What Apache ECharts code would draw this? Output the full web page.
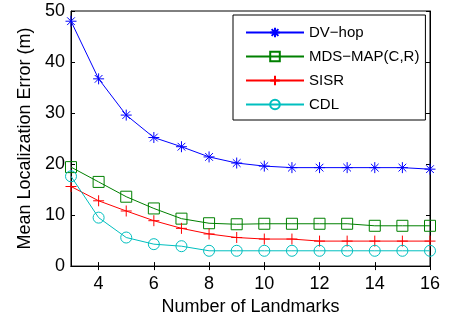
<!DOCTYPE html>
<html>
<head>
<meta charset="utf-8">
<script src="https://cdn.jsdelivr.net/npm/echarts@6/dist/echarts.min.js"></script>
<style>
  html, body { margin: 0; padding: 0; background: #fff; }
  #echartDiv { width: 466px; height: 321px; }
</style>
</head>
<body>
<div id="echartDiv"></div>
<script>
// data
const landmarks = [3, 4, 5, 6, 7, 8, 9, 10, 11, 12, 13, 14, 15, 16];
const dvHop = [48, 36.7, 29.6, 25.2, 23.4, 21.4, 20.2, 19.6, 19.3, 19.3, 19.3, 19.3, 19.3, 19.0];
const mdsMap = [19.4, 16.5, 13.6, 11.3, 9.3, 8.4, 8.2, 8.3, 8.3, 8.3, 8.3, 7.9, 7.9, 7.9];
const sisr = [15.6, 12.8, 10.8, 8.9, 7.4, 6.3, 5.6, 5.3, 5.3, 4.9, 4.9, 4.9, 4.9, 4.9];
const cdl = [17.6, 9.5, 5.6, 4.3, 3.9, 3.0, 3.0, 3.0, 3.0, 3.0, 3.0, 3.0, 3.0, 3.0];
const xTicks = [4, 6, 8, 10, 12, 14, 16];
const yTicks = [0, 10, 20, 30, 40, 50];

const FONT = "Liberation Sans";
const PLUS = "path://M0,5L10,5M5,0L5,10";
const STAR = "path://M0,5L10,5M5,0L5,10M1.5,1.5L8.5,8.5M1.5,8.5L8.5,1.5";

function pairs(vals) {
  return vals.map((v, i) => [landmarks[i], v]);
}

function makeSeries(name, vals, color, symbol, size) {
  return {
    name: name,
    type: "line",
    data: pairs(vals),
    symbol: symbol,
    symbolSize: size,
    showAllSymbol: true,
    lineStyle: { color: color, width: 1 },
    itemStyle: { color: "rgba(0,0,0,0)", borderColor: color, borderWidth: 1 },
    emphasis: { disabled: true },
    animation: false,
  };
}

let chartDom = document.getElementById("echartDiv");
let myChart = echarts.init(chartDom);
let tickStyle = { show: true, inside: true, length: 4, lineStyle: { color: "#000" } };
let option = {
  backgroundColor: "#fff",
  grid: { left: 71, right: 36, top: 11, bottom: 53, show: true, borderColor: "#000", borderWidth: 1 },
  legend: {
    orient: "vertical",
    left: 233,
    top: 15,
    padding: [10, 6, 8, 12],
    itemWidth: 58,
    itemHeight: 12,
    itemGap: 9,
    backgroundColor: "#fff",
    borderColor: "#000",
    borderWidth: 1,
    textStyle: { fontFamily: FONT, fontSize: 15, color: "#000" },
    data: ["DV\u2212hop", "MDS\u2212MAP(C,R)", "SISR", "CDL"],
  },
  xAxis: [
    {
      type: "value",
      min: 3,
      max: 16,
      name: "Number of Landmarks",
      nameLocation: "middle",
      nameGap: 31,
      nameTextStyle: { fontFamily: FONT, fontSize: 18, color: "#000" },
      axisLine: { lineStyle: { color: "#000" } },
      axisTick: Object.assign({ customValues: xTicks }, tickStyle),
      axisLabel: { customValues: xTicks, margin: 9, fontFamily: FONT, fontSize: 18, color: "#000" },
      splitLine: { show: false },
    },
    {
      type: "value",
      position: "top",
      min: 3,
      max: 16,
      axisLine: { lineStyle: { color: "#000" } },
      axisTick: Object.assign({ customValues: xTicks }, tickStyle),
      axisLabel: { show: false, customValues: xTicks },
      splitLine: { show: false },
    },
  ],
  yAxis: [
    {
      type: "value",
      min: 0,
      max: 50,
      interval: 10,
      name: "Mean Localization Error (m)",
      nameLocation: "middle",
      nameGap: 31,
      nameTextStyle: { fontFamily: FONT, fontSize: 18, color: "#000" },
      axisLine: { show: true, lineStyle: { color: "#000" } },
      axisTick: Object.assign({ customValues: yTicks }, tickStyle),
      axisLabel: { customValues: yTicks, margin: 6, fontFamily: FONT, fontSize: 18, color: "#000" },
      splitLine: { show: false },
    },
    {
      type: "value",
      position: "right",
      min: 0,
      max: 50,
      interval: 10,
      axisLine: { show: true, lineStyle: { color: "#000" } },
      axisTick: tickStyle,
      axisLabel: { show: false },
      splitLine: { show: false },
    },
  ],
  series: [
    makeSeries("DV\u2212hop", dvHop, "#0000ff", STAR, 11),
    makeSeries("MDS\u2212MAP(C,R)", mdsMap, "#008000", "rect", 11),
    makeSeries("SISR", sisr, "#ff0000", PLUS, 11),
    makeSeries("CDL", cdl, "#00bfbf", "circle", 11),
  ],
};
option && myChart.setOption(option);
</script>
</body>
</html>
